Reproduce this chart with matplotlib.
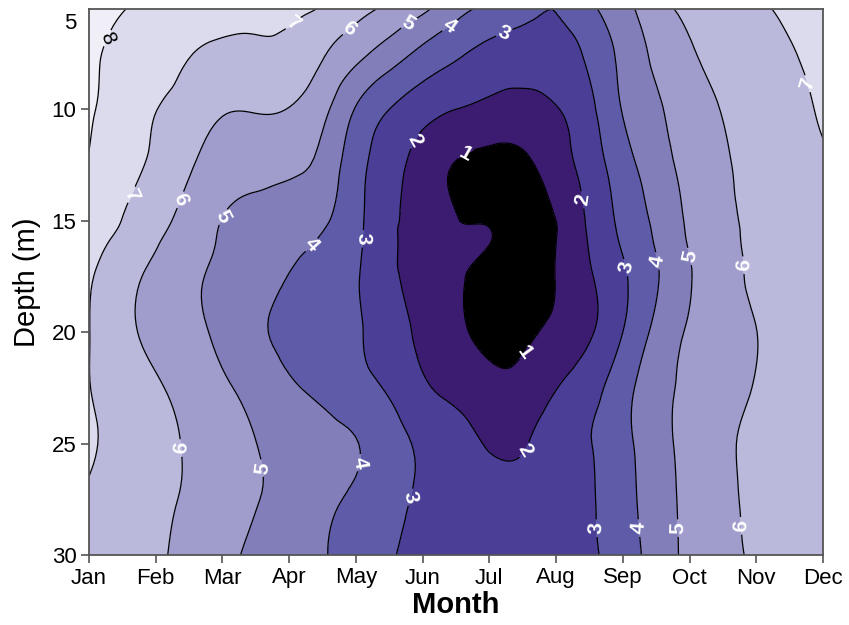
import numpy as np
import matplotlib
matplotlib.use("Agg")
import matplotlib.pyplot as plt
import matplotlib.tri as mtri

plt.rcParams['font.family'] = ['Liberation Sans', 'DejaVu Sans']

# half-month sampling along x (1 = Jan ... 12 = Dec)
months = [1.0, 1.5, 2.0, 2.5, 3.0, 3.5, 4.0, 4.5, 5.0, 5.5, 6.0, 6.5,
          7.0, 7.5, 8.0, 8.5, 9.0, 9.5, 10.0, 10.5, 11.0, 11.5, 12.0]
month_labels = ['Jan', 'Feb', 'Mar', 'Apr', 'May', 'Jun',
                'Jul', 'Aug', 'Sep', 'Oct', 'Nov', 'Dec']
depths = [5.5, 7.5, 10, 12.5, 15, 16, 17.5, 20, 22.5, 25, 27.5, 30]

# dissolved oxygen (mg/L) at each depth, one value per half month
do_5_5 = [8.2, 8.02, 7.83, 7.66, 7.49, 7.32, 7.15, 6.92, 6.3, 5.8, 5.2, 4.3,
          3.77, 3.3, 3.02, 3.8, 4.62, 5.64, 6.21, 6.53, 6.85, 7.15, 7.4]
do_7_5 = [8.13, 7.79, 7.45, 7.05, 6.75, 6.77, 6.73, 6.1, 5.3, 4.52, 3.74, 3.16,
          2.7, 2.52, 2.55, 3.2, 4.28, 5.2, 5.9, 6.27, 6.6, 6.94, 7.2]
do_10 = [8.1, 7.58, 7.02, 6.6, 6.09, 6.06, 5.97, 5.26, 3.93, 3.0, 2.38, 2.0,
         1.76, 1.64, 1.95, 2.75, 4.05, 4.84, 5.58, 6.03, 6.38, 6.74, 7.1]
do_12_5 = [7.95, 7.35, 6.81, 6.12, 5.52, 5.37, 5.22, 4.69, 3.4, 2.4, 1.57, 0.95,
           0.7, 0.8, 1.5, 2.45, 3.6, 4.52, 5.35, 5.88, 6.3, 6.6, 6.88]
do_15 = [7.45, 6.98, 6.28, 5.69, 4.97, 4.68, 4.47, 4.12, 3.28, 2.21, 1.6, 1.03,
         0.92, 0.5, 1.0, 2.16, 3.25, 4.2, 5.15, 5.75, 6.25, 6.5, 6.7]
do_16 = [7.31, 6.74, 6.07, 5.5, 4.89, 4.55, 4.27, 3.88, 3.2, 2.22, 1.55, 1.2,
         1.02, 0.45, 1.0, 2.06, 3.11, 4.08, 5.07, 5.69, 6.23, 6.48, 6.66]
do_17_5 = [7.1, 6.39, 5.75, 5.21, 4.76, 4.36, 3.97, 3.52, 3.08, 2.23, 1.63, 1.16,
           0.65, 0.5, 1.03, 1.9, 2.85, 3.9, 4.94, 5.6, 6.2, 6.45, 6.6]
do_20 = [7.02, 6.28, 5.72, 5.27, 4.77, 4.18, 3.77, 3.44, 3.11, 2.49, 1.78, 1.23,
         0.7, 0.78, 1.25, 1.88, 3.0, 4.25, 5.1, 5.54, 5.99, 6.3, 6.5]
do_22_5 = [7.02, 6.57, 6.12, 5.64, 5.15, 4.66, 4.15, 3.75, 3.34, 2.87, 2.15, 1.75,
           1.35, 1.35, 1.97, 2.6, 3.63, 4.59, 5.24, 5.65, 6.05, 6.3, 6.5]
do_25 = [7.1, 6.71, 6.3, 5.9, 5.46, 5.01, 4.69, 4.36, 4.04, 3.43, 2.83, 2.37,
         1.92, 1.92, 2.48, 2.96, 3.71, 4.6, 5.32, 5.84, 6.2, 6.45, 6.6]
do_27_5 = [6.9, 6.57, 6.23, 5.88, 5.47, 5.05, 4.65, 4.25, 3.82, 3.32, 2.85, 2.6,
           2.45, 2.45, 2.6, 2.9, 3.62, 4.5, 5.27, 5.79, 6.2, 6.45, 6.6]
do_30 = [6.8, 6.5, 6.15, 5.71, 5.25, 4.8, 4.44, 4.07, 3.58, 3.08, 2.8, 2.65,
         2.55, 2.55, 2.65, 2.85, 3.5, 4.42, 5.23, 5.7, 6.15, 6.4, 6.55]

levels = [-1, 1, 2, 3, 4, 5, 6, 7, 8, 10]
fill_colors = ['#000000', '#3b1c70', '#4a3e96', '#5e5ba8', '#827eba',
               '#a09dcd', '#bab9dc', '#dcdbee', '#f0eff7']

# where the contour labels sit (month, depth)
label_spots = [(1.31, 6.85), (4.12, 6.4), (4.91, 6.4), (5.84, 6.4), (6.44, 6.4),
               (7.2, 6.4), (1.69, 13.9), (2.36, 14.05), (2.99, 14.8),
               (4.42, 16.3), (5.18, 15.8), (5.84, 11.35), (6.71, 12.35),
               (8.43, 14.05), (9.05, 17.1), (9.44, 16.85), (9.93, 16.65),
               (10.8, 17.0), (11.65, 8.96), (7.53, 20.9), (7.53, 25.3),
               (2.38, 25.2), (3.59, 26.1), (5.03, 25.85), (5.81, 27.4),
               (8.6, 28.8), (9.21, 28.8), (9.75, 28.8), (10.73, 28.7)]

Z = np.array([do_5_5, do_7_5, do_10, do_12_5, do_15, do_16, do_17_5,
              do_20, do_22_5, do_25, do_27_5, do_30])
X, Y = np.meshgrid(months, depths)

# smooth the gridded field with matplotlib's cubic triangulation refiner
tri = mtri.Triangulation(X.ravel(), Y.ravel())
refiner = mtri.UniformTriRefiner(tri)
tri_fine, z_fine = refiner.refine_field(Z.ravel(), subdiv=3)

fig = plt.figure(figsize=(8.49, 6.25), dpi=100)
ax = fig.add_axes([89 / 849, 70 / 625, 734 / 849, 546 / 625])

ax.tricontourf(tri_fine, z_fine, levels=levels, colors=fill_colors)
cs = ax.tricontour(tri_fine, z_fine, levels=levels[1:-1], colors='black',
                   linewidths=0.9)
labels = ax.clabel(cs, fmt='%d', fontsize=15, colors='white',
                   manual=label_spots, inline=True, inline_spacing=3)
for t in labels:
    t.set_fontweight('bold')
    if t.get_text() == '8':
        t.set_color('black')
        t.set_fontweight('normal')

ax.set_xlim(1, 12)
ax.set_ylim(30, 5.5)
ax.set_xticks(range(1, 13), labels=month_labels)
ax.set_yticks([10, 15, 20, 25, 30])
ax.set_yticks([6.05], labels=['5'], minor=True)
ax.tick_params(which='major', direction='out', length=6, width=1.2,
               color='#555555', labelsize=16, pad=3)
ax.tick_params(axis='y', which='minor', length=0, labelsize=16, pad=9)
for s in ax.spines.values():
    s.set_color('#555555')
    s.set_linewidth(1.3)

ax.set_xlabel('Month', fontsize=21, fontweight='bold', labelpad=2)
ax.set_ylabel('Depth (m)', fontsize=21, labelpad=8)

fig.savefig('out.png', dpi=100)
